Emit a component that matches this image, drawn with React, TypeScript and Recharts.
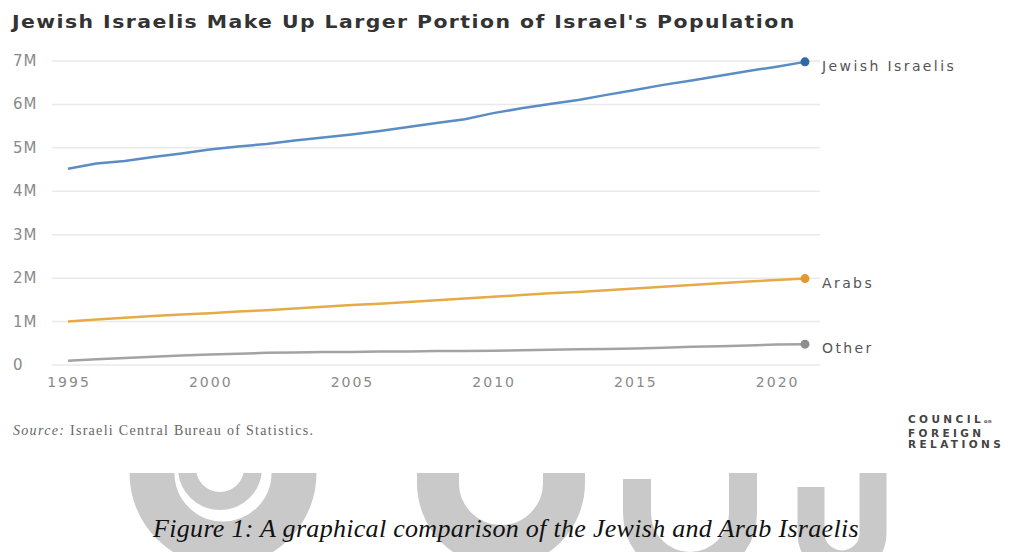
import React from "react";
import { LineChart, Line, XAxis, YAxis, CartesianGrid } from "recharts";

const years = [
  1995, 1996, 1997, 1998, 1999, 2000, 2001, 2002, 2003, 2004, 2005, 2006, 2007, 2008,
  2009, 2010, 2011, 2012, 2013, 2014, 2015, 2016, 2017, 2018, 2019, 2020, 2021,
];
// population in millions
const jewish = [
  4.52, 4.64, 4.7, 4.79, 4.87, 4.96, 5.03, 5.09, 5.17, 5.24, 5.31, 5.39, 5.48, 5.57,
  5.66, 5.8, 5.91, 6.01, 6.1, 6.22, 6.33, 6.45, 6.55, 6.66, 6.77, 6.87, 6.98,
];
const arabs = [
  1.0, 1.05, 1.09, 1.13, 1.16, 1.19, 1.23, 1.26, 1.3, 1.34, 1.38, 1.41, 1.45, 1.49,
  1.53, 1.57, 1.61, 1.65, 1.68, 1.72, 1.76, 1.8, 1.84, 1.88, 1.92, 1.96, 1.99,
];
const other = [
  0.1, 0.13, 0.16, 0.19, 0.22, 0.24, 0.26, 0.28, 0.29, 0.3, 0.3, 0.31, 0.31, 0.32,
  0.32, 0.33, 0.34, 0.35, 0.36, 0.37, 0.38, 0.4, 0.42, 0.43, 0.45, 0.47, 0.48,
];
const xTicks = [1995, 2000, 2005, 2010, 2015, 2020];
const yTicks = [0, 1, 2, 3, 4, 5, 6, 7];

const rows = years.map((year, i) => ({
  year,
  jewish: jewish[i],
  arabs: arabs[i],
  other: other[i],
}));
const last = rows.length - 1;

const FONT = "'DejaVu Sans', sans-serif";

const endDot = (color: string) => (props: any) =>
  props.index === last ? (
    <circle key={props.index} cx={props.cx} cy={props.cy} r={4.5} fill={color} />
  ) : (
    <g key={props.index} />
  );

const endLabel = (name: string) => (props: any) =>
  props.index === last ? (
    <text
      x={props.x + 17}
      y={props.y + 9}
      fill="#555"
      fontSize={14}
      fontFamily={FONT}
      letterSpacing={2.4}
    >
      {name}
    </text>
  ) : null;

const YTick = (props: any) => (
  <text
    x={13}
    y={props.y + 5}
    fill="#8a8a8a"
    fontSize={15}
    fontFamily={FONT}
    letterSpacing={1}
  >
    {props.payload.value === 0 ? "0" : `${props.payload.value}M`}
  </text>
);

const XTick = (props: any) => (
  <text
    x={props.x + 1}
    y={props.y + 14}
    textAnchor="middle"
    fill="#8a8a8a"
    fontSize={14}
    fontFamily={FONT}
    letterSpacing={2}
  >
    {props.payload.value}
  </text>
);

// U-shaped strokes for the faint page watermark
const uPath = (cx: number, r: number, cy: number, leftTop: number, rightTop: number) =>
  `M ${cx - r} ${leftTop} L ${cx - r} ${cy} A ${r} ${r} 0 0 0 ${cx + r} ${cy} L ${cx + r} ${rightTop}`;

export default function App() {
  return (
    <div
      style={{
        position: "absolute",
        left: 0,
        top: 0,
        width: 1012,
        height: 552,
        background: "#fff",
        overflow: "hidden",
      }}
    >
      <div
        style={{
          position: "absolute",
          left: 12,
          top: 12,
          fontFamily: FONT,
          fontWeight: "bold",
          fontSize: 17,
          letterSpacing: 1.2,
          color: "#333",
          whiteSpace: "nowrap",
          transform: "scaleX(1.2)",
          transformOrigin: "left top",
        }}
      >
        Jewish Israelis Make Up Larger Portion of Israel's Population
      </div>

      <div style={{ position: "absolute", left: 0, top: 0 }}>
        <LineChart
          width={1012}
          height={400}
          data={rows}
          margin={{ top: 61, right: 192, bottom: 5, left: 0 }}
        >
          <CartesianGrid vertical={false} stroke="#e9e9e9" strokeWidth={1.5} />
          <XAxis
            dataKey="year"
            type="number"
            domain={[1995, 2021]}
            ticks={xTicks}
            padding={{ left: 16, right: 15 }}
            axisLine={false}
            tickLine={false}
            height={30}
            tick={<XTick />}
          />
          <YAxis
            width={52}
            domain={[0, 7]}
            ticks={yTicks}
            axisLine={false}
            tickLine={false}
            tick={<YTick />}
          />
          <Line
            dataKey="jewish"
            stroke="#5b8dc5"
            strokeWidth={2.5}
            dot={endDot("#2f69a7")}
            activeDot={false}
            label={endLabel("Jewish Israelis")}
            isAnimationActive={false}
          />
          <Line
            dataKey="arabs"
            stroke="#e6ab47"
            strokeWidth={2.5}
            dot={endDot("#e5982e")}
            activeDot={false}
            label={endLabel("Arabs")}
            isAnimationActive={false}
          />
          <Line
            dataKey="other"
            stroke="#a3a3a3"
            strokeWidth={2.5}
            dot={endDot("#8d8d8d")}
            activeDot={false}
            label={endLabel("Other")}
            isAnimationActive={false}
          />
        </LineChart>
      </div>

      <div
        style={{
          position: "absolute",
          left: 13,
          top: 423,
          fontFamily: "'Liberation Serif', serif",
          fontSize: 14,
          letterSpacing: 1.3,
          color: "#666",
          whiteSpace: "nowrap",
        }}
      >
        <i>Source:</i> Israeli Central Bureau of Statistics.
      </div>

      <div
        style={{
          position: "absolute",
          left: 908,
          top: 414,
          fontFamily: FONT,
          fontWeight: "bold",
          fontSize: 10.5,
          lineHeight: "11.5px",
          letterSpacing: 3.4,
          color: "#444",
          whiteSpace: "nowrap",
        }}
      >
        <div>
          COUNCIL<span style={{ fontSize: 5, letterSpacing: 0.5 }}>on</span>
        </div>
        <div>FOREIGN</div>
        <div>RELATIONS</div>
      </div>

      <svg
        width={1012}
        height={79}
        style={{ position: "absolute", left: 0, top: 473 }}
      >
        <g fill="none" stroke="#c9c9c9">
          <circle cx={223} cy={0} r={71} strokeWidth={45} />
          <circle cx={220} cy={-5} r={33} strokeWidth={18} />
          <path d={uPath(501, 63, 10, -10, -10)} strokeWidth={42} />
          <path d={uPath(690, 53, 40, 6, -10)} strokeWidth={28} />
          <path d={uPath(842, 31, 60, 14, -10)} strokeWidth={27} />
        </g>
      </svg>

      <div
        style={{
          position: "absolute",
          left: 0,
          width: 1012,
          top: 514,
          textAlign: "center",
          fontFamily: "'Liberation Serif', serif",
          fontStyle: "italic",
          fontSize: 26,
          letterSpacing: 0.3,
          color: "#111",
          whiteSpace: "nowrap",
        }}
      >
        Figure 1: A graphical comparison of the Jewish and Arab Israelis
      </div>
    </div>
  );
}
